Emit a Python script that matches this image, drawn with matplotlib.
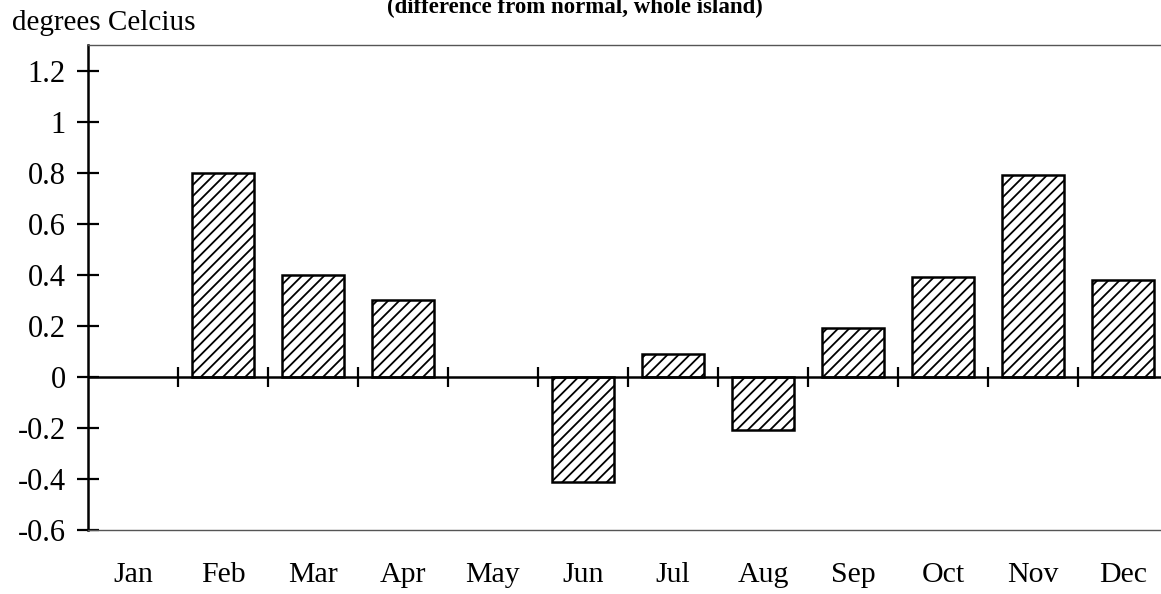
import numpy as np
import matplotlib.pyplot as plt

months = ['Jan', 'Feb', 'Mar', 'Apr', 'May', 'Jun', 'Jul', 'Aug', 'Sep', 'Oct', 'Nov', 'Dec']
anomaly = np.array([0.0, 0.80, 0.40, 0.30, 0.0, -0.41, 0.09, -0.21, 0.19, 0.39, 0.79, 0.38])
yticks = [-0.6, -0.4, -0.2, 0, 0.2, 0.4, 0.6, 0.8, 1, 1.2]
ytick_labels = ['-0.6', '-0.4', '-0.2', '0', '0.2', '0.4', '0.6', '0.8', '1', '1.2']

plt.rcParams['font.family'] = 'Liberation Serif'
plt.rcParams['hatch.linewidth'] = 1.3

fig = plt.figure(figsize=(11.61, 5.94), dpi=100)
ax = fig.add_axes([88 / 1161, 64 / 594, 1 - 88 / 1161, (530 - 45) / 594])

x = np.arange(len(months))
# months with no departure get no bar
shown = anomaly != 0
ax.bar(x[shown], anomaly[shown], width=0.68, color='white', edgecolor='black',
       linewidth=1.8, hatch='///')

# zero line with boundary ticks between months
ax.axhline(0, color='black', linewidth=1.8, zorder=3)
ax.vlines(x[:-1] + 0.5, -0.04, 0.04, color='black', linewidth=1.6, zorder=3)

ax.set_xlim(-0.5, -0.5 + (1161 - 88) / 90)
ax.set_ylim(-0.6, 1.3)

ax.set_yticks(yticks)
ax.set_yticklabels(ytick_labels, fontsize=22)
ax.tick_params(axis='y', direction='inout', length=16, width=1.6, pad=8)
ax.set_xticks(x)
ax.set_xticklabels(months, fontsize=21.5)
ax.tick_params(axis='x', length=0, pad=23)

ax.spines['right'].set_visible(False)
ax.spines['left'].set_linewidth(1.8)
ax.spines['top'].set_color('#555555')
ax.spines['top'].set_linewidth(1.0)
ax.spines['bottom'].set_color('#555555')
ax.spines['bottom'].set_linewidth(1.0)

fig.text(12 / 1161, 1 - 23 / 594, 'degrees Celcius', fontsize=21, ha='left', va='center')
fig.text(575 / 1161, 1 - 13 / 594, '(difference from normal, whole island)',
         fontsize=16.5, fontweight='bold', ha='center', va='baseline')

fig.savefig('out.png', dpi=100)
